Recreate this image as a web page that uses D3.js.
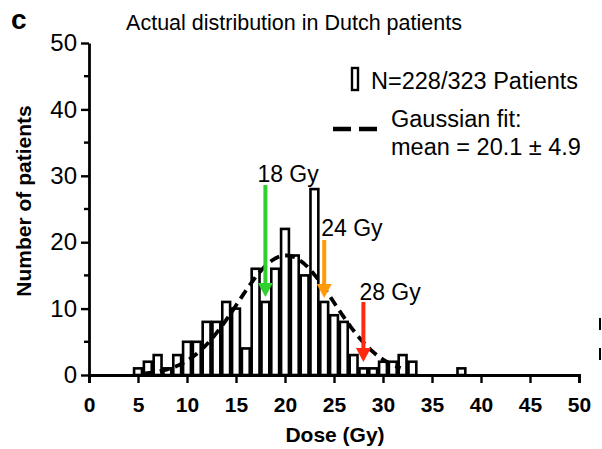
<!DOCTYPE html>
<html>
<head>
<meta charset="utf-8">
<script src="https://cdn.jsdelivr.net/npm/d3@7"></script>
<style>
  html, body { margin: 0; padding: 0; background: #fff; }
  svg { display: block; font-family: "Liberation Sans", Arial, Helvetica, sans-serif; }
</style>
</head>
<body>
<svg id="chart" width="602" height="449"></svg>
<script>
// Dose bins (Gy, 1-Gy bins centred on each integer) and patient counts
const doses = d3.range(0, 50);
const counts = [
  0, 0, 0, 0, 0, 1, 2, 3, 1, 3,
  5, 5, 8, 8, 11, 10, 4, 16, 11, 16,
  22, 18, 15, 28, 11, 9, 8, 3, 1, 1,
  2, 2, 3, 2, 0, 0, 0, 0, 1, 0,
  0, 0, 0, 0, 0, 0, 0, 0, 0, 0
];

// Gaussian fit parameters
const fitMean = 20.1;
const fitSd = 4.9;
const fitPeak = 18;
const fitRange = [5.6, 31.8];

// Axis ticks
const xTicks = d3.range(0, 51, 5);
const yMajorTicks = [0, 10, 20, 30, 40, 50];
const yMinorTicks = [5, 15, 25, 35, 45];

// Reference dose markers
const markers = [
  { dose: 18, label: "18 Gy", color: "#2ed12e", top: 185, tip: 297, labelY: 182, labelDx: -8 },
  { dose: 24, label: "24 Gy", color: "#ff9a0a", top: 240, tip: 298, labelY: 236, labelDx: -3 },
  { dose: 28, label: "28 Gy", color: "#ff2a10", top: 302, tip: 362, labelY: 300, labelDx: -4 }
];

const svg = d3.select("#chart");
const x = d3.scaleLinear().domain([0, 50]).range([89, 579]);
const y = d3.scaleLinear().domain([0, 50]).range([375, 43]);
const binW = x(1) - x(0);

// Panel letter and title
svg.append("text").attr("x", 11).attr("y", 29)
  .attr("font-size", 28).attr("font-weight", "bold").text("c");
svg.append("text").attr("x", 294).attr("y", 30).attr("text-anchor", "middle")
  .attr("font-size", 21.5).text("Actual distribution in Dutch patients");

// Histogram bars
svg.append("g").selectAll("rect").data(doses).join("rect")
  .attr("x", d => x(d) - binW * 0.4)
  .attr("width", binW * 0.8)
  .attr("y", (d, i) => y(counts[i]))
  .attr("height", (d, i) => y(0) - y(counts[i]))
  .attr("fill", "#fff").attr("stroke", "#000").attr("stroke-width", 2.6);

// Gaussian fit curve
const fitXs = d3.range(fitRange[0], fitRange[1] + 0.01, 0.1);
const gauss = v => fitPeak * Math.exp(-((v - fitMean) ** 2) / (2 * fitSd * fitSd));
svg.append("path")
  .datum(fitXs)
  .attr("d", d3.line().x(v => x(v)).y(v => y(gauss(v))))
  .attr("fill", "none").attr("stroke", "#000").attr("stroke-width", 3.8)
  .attr("stroke-dasharray", "10,6");

// X axis
const xAxis = svg.append("g").attr("transform", `translate(0,${y(0)})`)
  .call(d3.axisBottom(x).tickValues(xTicks).tickSize(8).tickPadding(14).tickFormat(d3.format("d")));
xAxis.select(".domain").attr("stroke-width", 2.8);
xAxis.selectAll(".tick line").attr("stroke-width", 2.4);
xAxis.selectAll(".tick text").attr("font-size", 21).attr("font-weight", "bold")
  .attr("font-family", "Liberation Sans, Arial, sans-serif").attr("fill", "#000");

// Y axis (major + minor ticks)
const yAxis = svg.append("g").attr("transform", `translate(${x(0)},0)`)
  .call(d3.axisLeft(y).tickValues(yMajorTicks).tickSize(8).tickPadding(4).tickSizeOuter(0));
yAxis.select(".domain").attr("stroke-width", 2.8);
yAxis.selectAll(".tick line").attr("stroke-width", 2.4);
yAxis.selectAll(".tick text").attr("font-size", 24)
  .attr("font-family", "Liberation Sans, Arial, sans-serif").attr("fill", "#000");
svg.append("g").selectAll("line").data(yMinorTicks).join("line")
  .attr("x1", x(0) - 5).attr("x2", x(0))
  .attr("y1", d => y(d)).attr("y2", d => y(d))
  .attr("stroke", "#000").attr("stroke-width", 2.4);

// Axis titles
svg.append("text").attr("x", 335).attr("y", 442).attr("text-anchor", "middle")
  .attr("font-size", 21).attr("font-weight", "bold").text("Dose (Gy)");
svg.append("text").attr("transform", "translate(31,201) rotate(-90)")
  .attr("text-anchor", "middle").attr("font-size", 21).attr("font-weight", "bold")
  .text("Number of patients");

// Dose marker arrows
const mg = svg.append("g");
markers.forEach(m => {
  const cx = x(m.dose);
  mg.append("line").attr("x1", cx).attr("x2", cx).attr("y1", m.top).attr("y2", m.tip - 10)
    .attr("stroke", m.color).attr("stroke-width", 4);
  mg.append("path")
    .attr("d", `M${cx - 7.5},${m.tip - 14} L${cx + 7.5},${m.tip - 14} L${cx},${m.tip} Z`)
    .attr("fill", m.color);
  mg.append("text").attr("x", cx + m.labelDx).attr("y", m.labelY)
    .attr("font-size", 23).text(m.label);
});

// Legend
const lg = svg.append("g");
lg.append("rect").attr("x", 352).attr("y", 68).attr("width", 6).attr("height", 22)
  .attr("fill", "#fff").attr("stroke", "#000").attr("stroke-width", 2.4);
lg.append("text").attr("x", 371).attr("y", 89).attr("font-size", 23.5).text("N=228/323 Patients");
lg.append("line").attr("x1", 333).attr("x2", 377).attr("y1", 129).attr("y2", 129)
  .attr("stroke", "#000").attr("stroke-width", 4.5).attr("stroke-dasharray", "18,8");
lg.append("text").attr("x", 391).attr("y", 127).attr("font-size", 23.5).text("Gaussian fit:");
lg.append("text").attr("x", 391).attr("y", 155).attr("font-size", 23.5).text("mean = 20.1 \u00b1 4.9");

// Edge marks from the neighbouring panel
svg.append("g").selectAll("line").data([318, 348]).join("line")
  .attr("x1", 600).attr("x2", 600).attr("y1", d => d).attr("y2", d => d + 12)
  .attr("stroke", "#000").attr("stroke-width", 2);
</script>
</body>
</html>
